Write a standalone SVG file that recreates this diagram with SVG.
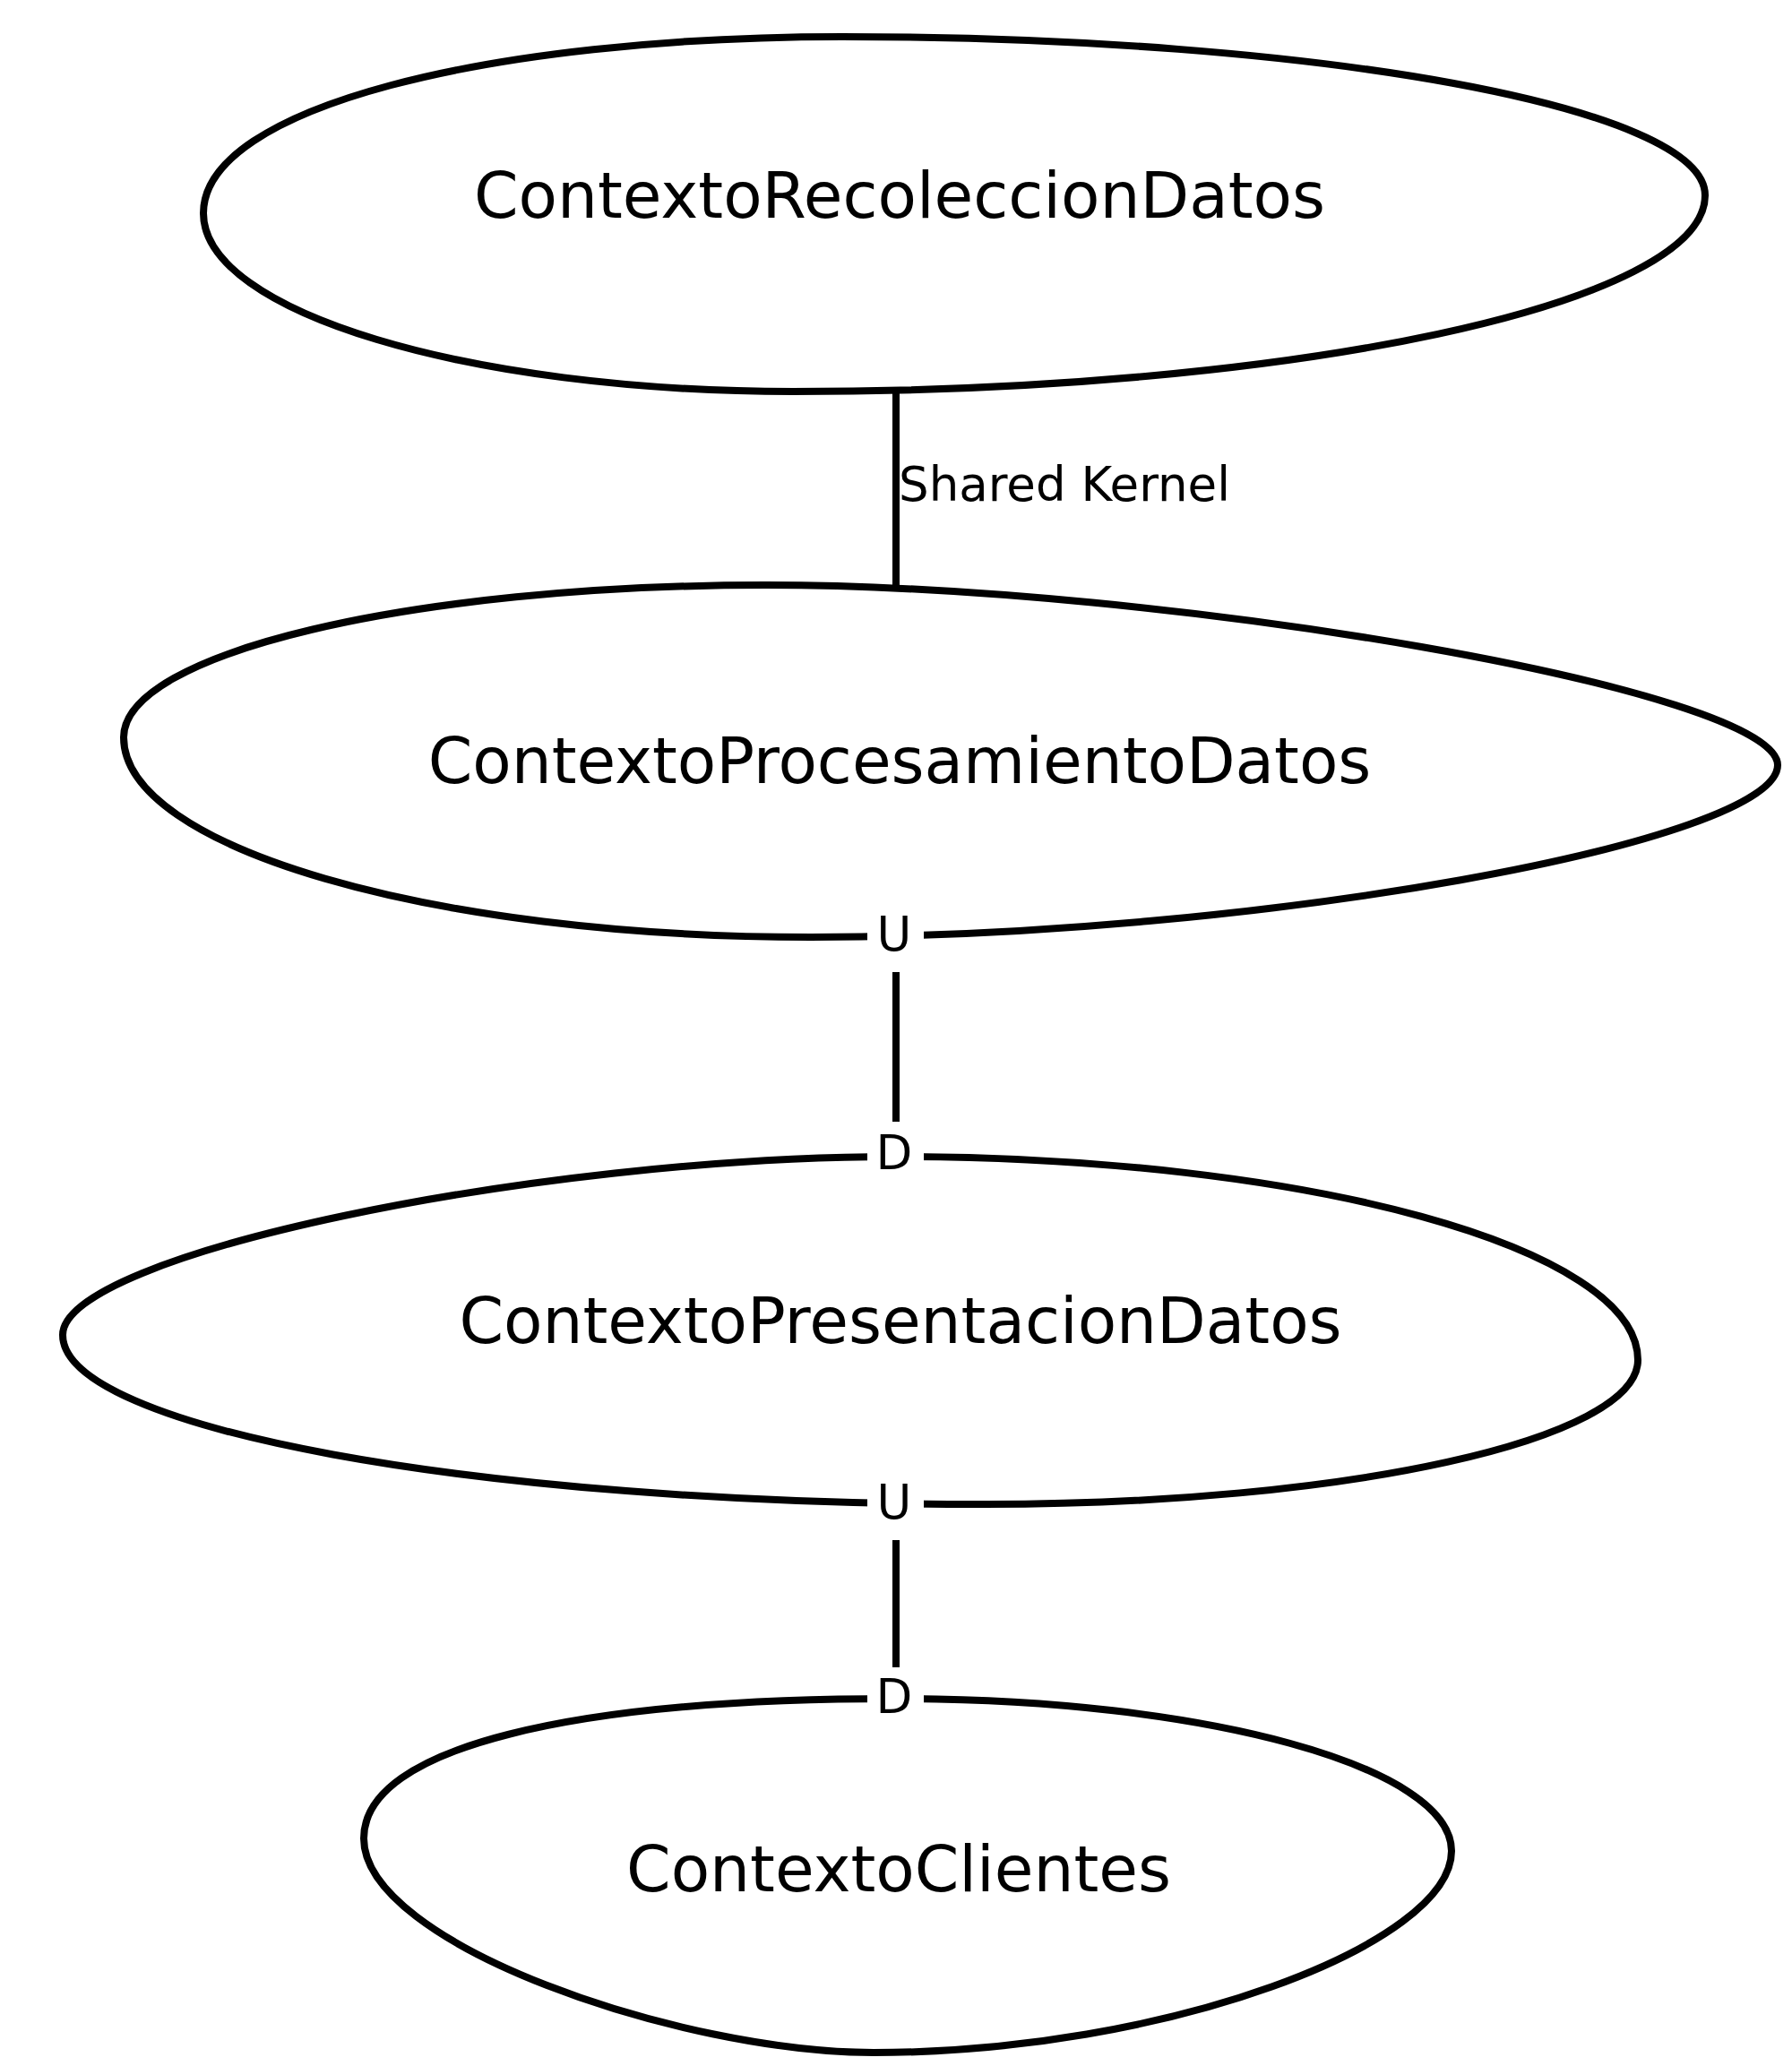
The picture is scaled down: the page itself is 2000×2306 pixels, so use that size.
<svg xmlns="http://www.w3.org/2000/svg" width="2000" height="2306" viewBox="0 0 2000 2306">
<style>
.node{fill:#ffffff;stroke:#000000;stroke-width:8}
.edge{stroke:#000000;stroke-width:8;fill:none}
.nl{font-family:"DejaVu Sans","Liberation Sans",sans-serif;font-size:71px;fill:#000000;text-anchor:middle}
.el{font-family:"DejaVu Sans","Liberation Sans",sans-serif;font-size:53px;fill:#000000}
.ud{text-anchor:middle}
.bg{fill:#ffffff;stroke:none}
</style>
<rect x="0" y="0" width="2000" height="2306" fill="#ffffff"/>
<g id="node-ContextoRecoleccionDatos">
<path class="node" d="M227,238 C227,120 546,41 940,41 C1472,41 1903,120 1903,218 C1903,339 1447,437 885,437 C522,437 227,348 227,238 Z"/>
<text class="nl" x="1004" y="243">ContextoRecoleccionDatos</text>
</g>
<g id="node-ContextoProcesamientoDatos">
<path class="node" d="M138,823 C138,729 459,653 855,653 C1300,653 1984,770 1984,854 C1984,940 1400,1046 905,1046 C481,1046 138,946 138,823 Z"/>
<text class="nl" x="1004" y="874">ContextoProcesamientoDatos</text>
</g>
<g id="node-ContextoPresentacionDatos">
<path class="node" d="M70,1490 C70,1400 600,1291 1000,1291 C1458,1291 1828,1393 1828,1518 C1828,1607 1503,1679 1100,1679 C531,1679 70,1594 70,1490 Z"/>
<text class="nl" x="1005" y="1499">ContextoPresentacionDatos</text>
</g>
<g id="node-ContextoClientes">
<path class="node" d="M406,2052 C406,1950 640,1896 1000,1896 C1345,1896 1620,1972 1620,2066 C1620,2170 1300,2291 975,2291 C760,2291 406,2170 406,2052 Z"/>
<text class="nl" x="1003" y="2111">ContextoClientes</text>
</g>
<g id="connectors">
<line class="edge" x1="1000" y1="437" x2="1000" y2="653"/>
<text class="el" x="1003" y="559">Shared Kernel</text>
<line class="edge" x1="1000" y1="1085" x2="1000" y2="1252"/>
<rect class="bg" x="968" y="1015" width="63" height="60"/>
<text class="el ud" x="998" y="1061">U</text>
<rect class="bg" x="968" y="1262" width="63" height="52"/>
<text class="el ud" x="998" y="1305">D</text>
<line class="edge" x1="1000" y1="1719" x2="1000" y2="1861"/>
<rect class="bg" x="968" y="1650" width="63" height="56"/>
<text class="el ud" x="998" y="1695">U</text>
<rect class="bg" x="968" y="1868" width="63" height="52"/>
<text class="el ud" x="998" y="1912">D</text>
</g>
</svg>
